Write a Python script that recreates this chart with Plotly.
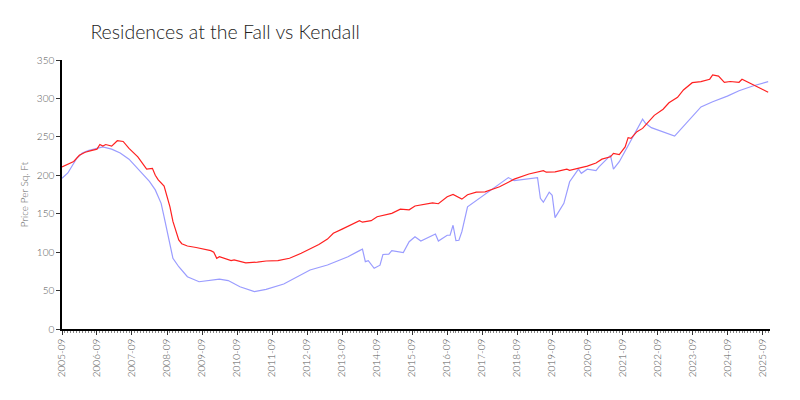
import plotly.graph_objects as go

title_text = "Residences at the Fall vs Kendall"
y_title = "Price Per Sq. Ft"

fall_dates = ["2005-09","2005-11","2006-01","2006-03","2006-05","2006-07","2006-09","2006-10","2006-11","2006-12",
              "2007-02","2007-04","2007-06","2007-08","2007-11","2008-02","2008-04","2008-05","2008-06","2008-08",
              "2008-10","2008-11","2009-01","2009-02","2009-04","2009-07","2009-12","2010-01","2010-02","2010-03",
              "2010-05","2010-07","2010-08","2010-10","2010-12","2011-04","2011-07","2011-11","2012-03","2012-07",
              "2012-10","2013-01","2013-04","2013-06","2013-09","2013-12","2014-03","2014-04","2014-07","2014-09",
              "2015-02","2015-05","2015-08","2015-10","2016-04","2016-06","2016-09","2016-11","2017-02","2017-04",
              "2017-07","2017-10","2017-12","2018-03","2018-06","2018-08","2019-01","2019-06","2019-07","2019-10",
              "2020-02","2020-03","2020-09","2020-12","2021-02","2021-05","2021-06","2021-08","2021-10","2021-11",
              "2021-12","2022-02","2022-04","2022-06","2022-08","2022-11","2023-01","2023-04","2023-06","2023-09",
              "2023-12","2024-03","2024-04","2024-06","2024-08","2024-10","2025-01","2025-02","2025-05","2025-08",
              "2025-11"]
fall_values = [211,214,218,226,230,232,234,240,238,240,
               238,245,244,235,224,208,209,200,194,186,
               159,140,116,111,108,106,102,100,92,94,
               92,89,90,88,86,87,88.5,89,92,98.5,
               104,110,117,124.5,130,135,141,139,141,146,
               150.5,156,155,160,164,163,172,175,169,174.7,
               178,178.5,181,185,191,195,201.7,206,204,204.4,
               208,206.5,212,216,221,224,228.6,227,237,249,
               248,256.7,261,269.7,278,286,294.4,301.5,311,320.5,
               321.8,325,330.5,329,321,322,321,325,319.6,313,
               308]

kendall_dates = ["2005-09","2005-11","2006-02","2006-04","2006-06","2006-09","2006-11","2007-02","2007-05","2007-08",
                 "2007-11","2008-03","2008-05","2008-07","2008-08","2008-10","2008-11","2009-01","2009-04","2009-08",
                 "2009-11","2010-03","2010-06","2010-10","2011-03","2011-07","2012-01","2012-10","2013-04","2013-11",
                 "2014-03","2014-04","2014-05","2014-06","2014-08","2014-10","2014-11","2015-01","2015-02","2015-04",
                 "2015-06","2015-08","2015-10","2015-12","2016-05","2016-06","2016-09","2016-10","2016-11","2016-12",
                 "2017-01","2017-02","2017-04","2018-06","2018-08","2019-04","2019-05","2019-06","2019-08","2019-09",
                 "2019-10","2020-01","2020-03","2020-06","2020-07","2020-09","2020-12","2021-01","2021-05","2021-06",
                 "2021-08","2022-04","2022-05","2022-07","2023-03","2023-12","2024-04","2024-09","2025-01","2025-06",
                 "2025-11"]
kendall_values = [196,203,222,229,232,235,237,234,229,221,
                  208,192,181,163.5,146,107,92,81,68,61.5,
                  63,65,63,55,48.6,51.6,58.5,76.8,83.3,94,
                  102,104,87.6,89,79,83,97,97.5,102,101,
                  99.5,113.6,120,114.5,123.6,114.5,122,122,135,115,
                  115.5,126.6,159,197,193,197,170,165,178,174,
                  145,163.5,191.6,208,202.5,208,206,211,226,208,
                  217.7,273,267.6,262,251,289,295.7,303,310,316.5,
                  321.8]

FONT = "Lato"

fig = go.Figure()
fig.add_trace(go.Scatter(x=kendall_dates, y=kendall_values, mode="lines", name="Kendall",
                         line=dict(color="#9a9cff", width=1.2)))
fig.add_trace(go.Scatter(x=fall_dates, y=fall_values, mode="lines", name="Residences at the Fall",
                         line=dict(color="#ff2020", width=1.2)))

fig.update_layout(
    width=800, height=400,
    margin=dict(l=54, r=38, t=52, b=79, autoexpand=False),
    paper_bgcolor="white", plot_bgcolor="white",
    showlegend=False,
    font=dict(family=FONT, color="#555555", size=10, weight=300),
    title=dict(text=title_text, x=0.103, xanchor="left", y=0.94, yanchor="middle",
               font=dict(family=FONT, size=19.5, color="#222222", weight=300)),
    xaxis=dict(
        type="date", automargin=False,
        range=["2005-09-01", "2025-11-20"],
        tick0="2005-09-01", dtick="M12", tickformat="%Y-%m",
        tickangle=-90, ticks="outside", ticklen=4, tickcolor="#333333",
        showline=True, linecolor="#000000", linewidth=1.5,
        showgrid=False, zeroline=False,
        minor=dict(dtick="M1", ticks="outside", ticklen=2, tickcolor="#888888", showgrid=False),
        tickfont=dict(size=10, color="#555555"),
    ),
    yaxis=dict(
        automargin=False,
        range=[0, 350], dtick=50, ticks="outside", ticklen=4, tickcolor="#333333",
        showline=True, linecolor="#000000", linewidth=1.5,
        showgrid=False, zeroline=False,
        title=dict(text=y_title, font=dict(size=10, color="#666666"), standoff=6),
        tickfont=dict(size=10, color="#555555"),
    ),
)

fig.write_html("out.html")
